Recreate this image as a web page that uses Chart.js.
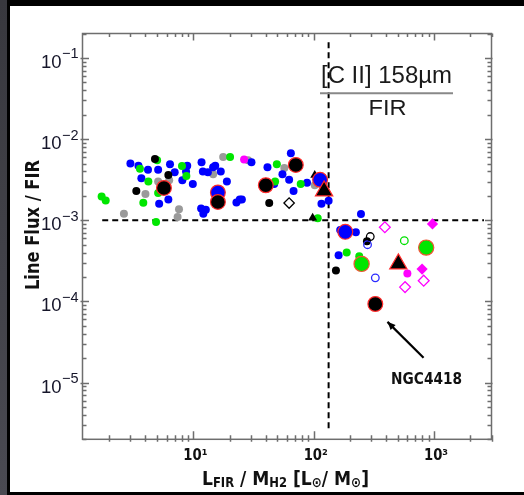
<!DOCTYPE html>
<html><head><meta charset="utf-8">
<script src="https://cdn.jsdelivr.net/npm/chart.js@4/dist/chart.umd.min.js"></script>
<style>
html,body{margin:0;padding:0;background:#000;width:524px;height:495px;overflow:hidden;}
#strip{position:absolute;left:0;top:0;width:7px;height:495px;background:linear-gradient(#38383e,#4a4a52);}
#panel{position:absolute;left:10px;top:6px;width:514px;height:486px;background:#fff;}
#c{position:absolute;left:0;top:0;}
</style></head><body>
<div id="strip"></div><div id="panel"></div>
<canvas id="c" width="524" height="495"></canvas>
<script>
// ---- axis ranges and tick labels ----
const xMin = 1.2, xMax = 3000, yMin = 2e-6, yMax = 0.2;
const xTickExp = [1, 2, 3];
const xTickLabels = ['10\u00b9', '10\u00b2', '10\u00b3'];
const yTickExp = [-1, -2, -3, -4, -5];
const yTickSup = ['\u22121', '\u22122', '\u22123', '\u22124', '\u22125'];

// ---- series (x = LFIR/MH2, y = line flux / FIR) ----
const blueSmallX = [3.0,3.5,3.7,4.2,5.1,5.2,5.7,6.4,6.2,7.0,8.1,8.7,8.9,9.9,11.7,11.6,12.0,12.7,12.1,13.2,14.6,15.2,16.9,19.0,22.8,24.3,25.3,30.4,41.3,64.6,55,62.5,46.9,68,88,116,133,247,166,224,161];
const blueSmallY = [5.0e-3,4.7e-3,3.3e-3,4.2e-3,4.2e-3,1.6e-3,2.7e-3,4.9e-3,1.8e-3,3.9e-3,3.1e-3,4.0e-3,4.7e-3,2.8e-3,5.2e-3,1.4e-3,4.0e-3,1.35e-3,1.2e-3,3.9e-3,4.5e-3,4.7e-3,4.0e-3,3.0e-3,1.66e-3,1.8e-3,1.8e-3,5.2e-3,4.5e-3,6.7e-3,3.7e-3,3.15e-3,2.8e-3,2.3e-3,2.9e-3,1.6e-3,1.74e-3,1.19e-3,7.6e-4,7.1e-4,3.7e-4];
const greenSmallX = [1.73,1.87,3.6,3.84,4.23,5.0,5.1,4.9,8.05,8.75,20.2,49.4,47.8,78,108,188,239];
const greenSmallY = [1.96e-3,1.75e-3,4.3e-3,1.64e-3,3.0e-3,5.5e-3,2.16e-3,9.5e-4,4.66e-3,3.5e-3,6.0e-3,4.9e-3,3.0e-3,2.8e-3,1.06e-3,4.0e-4,3.6e-4];
const graySmallX = [2.65,4.0,5.1,6.3,7.6,7.4,14.6,17.7,57,102,28.5];
const graySmallY = [1.2e-3,2.1e-3,3.0e-3,3.1e-3,1.37e-3,1.1e-3,3.7e-3,6.0e-3,4.4e-3,2.7e-3,5.5e-3];
const blackSmallX = [3.36,4.8,6.2,42.7,277,153];
const blackSmallY = [2.3e-3,5.7e-3,3.6e-3,1.63e-3,5.5e-4,2.4e-4];
const magentaSmallX = [26.4,600];
const magentaSmallY = [5.6e-3,2.2e-4];
const blackLargeX = [5.7,16,40,71,325];
const blackLargeY = [2.5e-3,1.68e-3,2.7e-3,4.8e-3,9.3e-5];
const blueLargeX = [16,113,183];
const blueLargeY = [2.2e-3,3.15e-3,7.2e-4];
const greenLargeX = [860,250];
const greenLargeY = [4.6e-4,2.9e-4];
const triSmallX = [102,98];
const triSmallY = [3.6e-3,1.07e-3];
const triLargeX = [122,505];
const triLargeY = [2.3e-3,2.9e-4];
const openBlackDiamondX = [62.5];
const openBlackDiamondY = [1.63e-3];
const openMagentaDiamondX = [390,820,574];
const openMagentaDiamondY = [8.2e-4,1.8e-4,1.5e-4];
const magentaDiamondX = [970,795];
const magentaDiamondY = [9.0e-4,2.5e-4];
const openBlackCircleX = [295];
const openBlackCircleY = [6.3e-4];
const openBlueCircleX = [280,325];
const openBlueCircleY = [5.0e-4,1.95e-4];
const openGreenCircleX = [566];
const openGreenCircleY = [5.6e-4];

// ---- reference lines and arrow ----
const vLineX = [133, 133];
const vLineY = [0.156, 2.74e-6];
const hLineX = [1.75, 2600];
const hLineY = [1e-3, 1e-3];
const arrowX = [818, 410];
const arrowY = [2.02e-5, 5.6e-5];
const arrowLabel = 'NGC4418';

const pts = (xs, ys) => xs.map((v, i) => ({x: v, y: ys[i]}));
const CLEAR = 'rgba(255,255,255,0)';
function ser(xs, ys, o) {
  return Object.assign({data: pts(xs, ys), pointStyle: 'circle', pointRadius: 4, borderWidth: 0,
    pointHoverRadius: 4, showLine: false}, o);
}
const RED = '#ff2a2a';
const datasets = [
  {type: 'line', data: pts(vLineX, vLineY), borderColor: '#000', borderWidth: 2, borderDash: [6, 4], pointRadius: 0, showLine: true, fill: false, order: 20},
  {type: 'line', data: pts(hLineX, hLineY), borderColor: '#000', borderWidth: 2, borderDash: [6, 4], pointRadius: 0, showLine: true, fill: false, order: 20},
  {type: 'line', data: pts(arrowX, arrowY), borderColor: '#000', borderWidth: 2.2, pointRadius: 0, showLine: true, fill: false, order: 20},
  ser(graySmallX, graySmallY, {backgroundColor: '#9a9a9a', order: 9}),
  ser(blueSmallX, blueSmallY, {backgroundColor: '#0000ff', order: 8}),
  ser(greenSmallX, greenSmallY, {backgroundColor: '#00e600', order: 7}),
  ser(blackSmallX, blackSmallY, {backgroundColor: '#000', order: 6}),
  ser(magentaSmallX, magentaSmallY, {backgroundColor: '#ff00ff', order: 6}),
  ser(openBlueCircleX, openBlueCircleY, {backgroundColor: CLEAR, borderColor: '#2a2aff', borderWidth: 1.3, pointRadius: 3.8, order: 5}),
  ser(openGreenCircleX, openGreenCircleY, {backgroundColor: CLEAR, borderColor: '#00e000', borderWidth: 1.3, pointRadius: 3.8, order: 5}),
  ser(openBlackCircleX, openBlackCircleY, {backgroundColor: CLEAR, borderColor: '#000', borderWidth: 1.3, pointRadius: 3.8, order: 4}),
  ser(openBlackDiamondX, openBlackDiamondY, {pointStyle: 'rectRot', backgroundColor: CLEAR, borderColor: '#000', borderWidth: 1.3, pointRadius: 5.2, order: 4}),
  ser(openMagentaDiamondX, openMagentaDiamondY, {pointStyle: 'rectRot', backgroundColor: CLEAR, borderColor: '#ff00ff', borderWidth: 1.3, pointRadius: 5.4, order: 4}),
  ser(magentaDiamondX, magentaDiamondY, {pointStyle: 'rectRot', backgroundColor: '#ff00ff', pointRadius: 5.6, order: 4}),
  ser(triSmallX, triSmallY, {pointStyle: 'triangle', backgroundColor: '#000', pointRadius: 5.2, order: 3}),
  ser(greenLargeX, greenLargeY, {backgroundColor: '#00e600', borderColor: '#ee5533', borderWidth: 1.2, pointRadius: 7.6, order: 2}),
  ser(blueLargeX, blueLargeY, {backgroundColor: '#0000ff', borderColor: RED, borderWidth: 1.2, pointRadius: 7.4, order: 2}),
  ser(blackLargeX, blackLargeY, {backgroundColor: '#000', borderColor: RED, borderWidth: 1.2, pointRadius: 7.4, order: 1}),
  ser(triLargeX, triLargeY, {pointStyle: 'triangle', backgroundColor: '#000', borderColor: RED, borderWidth: 1.2, pointRadius: 10, order: 0})
];

function logTicks(min, max) {
  const out = [];
  for (let e = Math.floor(Math.log10(min)); e <= Math.ceil(Math.log10(max)); e++) {
    for (let m = 1; m <= 9; m++) {
      const v = m * Math.pow(10, e);
      if (v >= min * 0.9999 && v <= max * 1.0001) out.push({v, major: m === 1});
    }
  }
  return out;
}

function fitText(ctx, text, cx, cy, font, width) {
  ctx.font = font;
  const w = ctx.measureText(text).width;
  ctx.save();
  ctx.translate(cx, cy);
  ctx.scale(width / w, 1);
  ctx.textAlign = 'center';
  ctx.fillText(text, 0, 0);
  ctx.restore();
}

const decor = {
  id: 'decor',
  beforeDatasetsDraw(chart) {
    const {ctx, chartArea: a, scales: {x, y}} = chart;
    ctx.save();
    ctx.strokeStyle = '#6e6e6e';
    ctx.lineWidth = 1.5;
    ctx.strokeRect(a.left, a.top, a.right - a.left, a.bottom - a.top);
    ctx.beginPath();
    for (const t of logTicks(x.min, x.max)) {
      const px = Math.round(x.getPixelForValue(t.v)) + 0.5;
      if (t.major) {
        ctx.moveTo(px, a.bottom); ctx.lineTo(px, a.bottom - 8);
        ctx.moveTo(px, a.top); ctx.lineTo(px, a.top + 7);
      } else {
        ctx.moveTo(px, a.bottom + 2.5); ctx.lineTo(px, a.bottom - 4);
        ctx.moveTo(px, a.top); ctx.lineTo(px, a.top + 3.5);
      }
    }
    for (const t of logTicks(y.min, y.max)) {
      const py = Math.round(y.getPixelForValue(t.v)) + 0.5;
      if (t.major) {
        ctx.moveTo(a.left - 2, py); ctx.lineTo(a.left + 6.5, py);
        ctx.moveTo(a.right + 1, py); ctx.lineTo(a.right - 6.5, py);
      } else {
        ctx.moveTo(a.left, py); ctx.lineTo(a.left + 4, py);
        ctx.moveTo(a.right, py); ctx.lineTo(a.right - 4, py);
      }
    }
    ctx.stroke();
    ctx.restore();
  },
  afterDraw(chart) {
    const {ctx, chartArea: a, scales: {x, y}} = chart;
    ctx.save();
    // y tick labels
    ctx.fillStyle = '#16162a';
    ctx.textBaseline = 'alphabetic';
    yTickExp.forEach((e, i) => {
      const py = y.getPixelForValue(Math.pow(10, e));
      ctx.font = '14.5px "Liberation Sans", Arial, sans-serif';
      ctx.textAlign = 'right';
      const right = a.left - 4;
      const sw = ctx.measureText(yTickSup[i]).width;
      ctx.fillText(yTickSup[i], right, py + 0.5);
      ctx.font = '18.5px "Liberation Sans", Arial, sans-serif';
      ctx.fillText('10', right - sw - 0.5, py + 10);
    });
    // x tick labels
    ctx.fillStyle = '#111';
    xTickExp.forEach((e, i) => {
      const px = x.getPixelForValue(Math.pow(10, e));
      ctx.font = 'bold 15px "DejaVu Sans", Verdana, sans-serif';
      const w = ctx.measureText(xTickLabels[i]).width;
      fitText(ctx, xTickLabels[i], px + 2, 459.5, ctx.font, w * 0.88);
    });
    // x title
    const big = 'bold 20px "DejaVu Sans", Verdana, sans-serif';
    const small = 'bold 13.5px "DejaVu Sans", Verdana, sans-serif';
    const sun = 'bold 14px "DejaVu Sans", Verdana, sans-serif';
    const parts = [['L', big, 0], ['FIR', small, 1.5], [' / M', big, 0], ['H2', small, 1.5], [' [L', big, 0], ['\u2299', sun, 1.5], ['/ M', big, 0], ['\u2299', sun, 1.5], [']', big, 0]];
    let total = 0;
    parts.forEach(p => { ctx.font = p[1]; p.push(ctx.measureText(p[0]).width); total += p[3]; });
    const targetW = 167, cx = 285.5;
    ctx.save();
    ctx.translate(cx, 485);
    ctx.scale(targetW / total, 1);
    ctx.textAlign = 'left';
    let xx = -total / 2;
    parts.forEach(p => { ctx.font = p[1]; ctx.fillText(p[0], xx, p[2]); xx += p[3]; });
    ctx.restore();
    // y title
    ctx.save();
    ctx.translate(39, 225);
    ctx.rotate(-Math.PI / 2);
    fitText(ctx, 'Line Flux / FIR', 0, 0, 'bold 19px "DejaVu Sans", Verdana, sans-serif', 130);
    ctx.restore();
    // annotation box text
    ctx.fillStyle = '#1a1a1a';
    fitText(ctx, '[C II] 158\u00b5m', 386.5, 82.5, '23px "Liberation Sans", Arial, sans-serif', 131);
    fitText(ctx, 'FIR', 387.5, 115.3, '22.5px "Liberation Sans", Arial, sans-serif', 38);
    ctx.strokeStyle = '#888';
    ctx.lineWidth = 2;
    ctx.beginPath(); ctx.moveTo(320, 93.3); ctx.lineTo(453, 93.3); ctx.stroke();
    // arrow head
    const tx = x.getPixelForValue(arrowX[1]), ty = y.getPixelForValue(arrowY[1]);
    const sx = x.getPixelForValue(arrowX[0]), sy = y.getPixelForValue(arrowY[0]);
    const ang = Math.atan2(ty - sy, tx - sx);
    ctx.fillStyle = '#000';
    ctx.beginPath();
    ctx.moveTo(tx, ty);
    ctx.lineTo(tx - 8 * Math.cos(ang) + 3.5 * Math.sin(ang), ty - 8 * Math.sin(ang) - 3.5 * Math.cos(ang));
    ctx.lineTo(tx - 8 * Math.cos(ang) - 3.5 * Math.sin(ang), ty - 8 * Math.sin(ang) + 3.5 * Math.cos(ang));
    ctx.closePath(); ctx.fill();
    // arrow label
    ctx.fillStyle = '#111';
    fitText(ctx, arrowLabel, sx + 3, sy + 26, 'bold 15.5px "DejaVu Sans", Verdana, sans-serif', 71);
    ctx.restore();
  }
};

new Chart(document.getElementById('c'), {
  type: 'scatter',
  data: {datasets},
  options: {
    responsive: false,
    animation: false,
    events: [],
    devicePixelRatio: 1,
    layout: {padding: {left: 82.5, right: 32.5, top: 33.5, bottom: 55.7}},
    plugins: {legend: {display: false}, tooltip: {enabled: false}},
    scales: {
      x: {type: 'logarithmic', min: xMin, max: xMax, display: false},
      y: {type: 'logarithmic', min: yMin, max: yMax, display: false}
    }
  },
  plugins: [decor]
});
</script>
</body></html>
